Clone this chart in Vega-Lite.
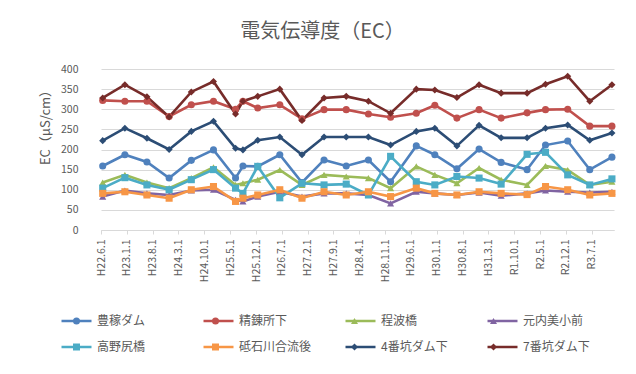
{
  "$schema": "https://vega.github.io/schema/vega-lite/v6.json",
  "width": 513,
  "height": 161,
  "autosize": {"type": "none"},
  "padding": {"left": 101, "top": 69, "right": 22, "bottom": 144},
  "background": "white",
  "config": {"view": {"stroke": null}, "font": "Noto Sans CJK JP"},
  "title": {"text": "電気伝導度（EC）", "fontSize": 20, "font": "Noto Sans CJK JP", "fontWeight": "normal", "color": "#595959", "anchor": "middle", "frame": "group", "dx": -35, "offset": 22},
  "data": {"values": [
    {"date": "2010-06-15", "豊稼ダム": 159, "精錬所下": 322, "程波橋": 118, "元内美小前": 83, "高野尻橋": 104, "砥石川合流後": 91, "4番坑ダム下": 222, "7番坑ダム下": 328},
    {"date": "2010-12-15", "豊稼ダム": 187, "精錬所下": 320, "程波橋": 137, "元内美小前": 98, "高野尻橋": 130, "砥石川合流後": 95, "4番坑ダム下": 253, "7番坑ダム下": 361},
    {"date": "2011-06-15", "豊稼ダム": 169, "精錬所下": 320, "程波橋": 118, "元内美小前": 91, "高野尻橋": 112, "砥石川合流後": 87, "4番坑ダム下": 228, "7番坑ダム下": 331},
    {"date": "2011-12-15", "豊稼ダム": 129, "精錬所下": 282, "程波橋": 104, "元内美小前": 87, "高野尻橋": 100, "砥石川合流後": 79, "4番坑ダム下": 200, "7番坑ダム下": 281},
    {"date": "2012-06-15", "豊稼ダム": 173, "精錬所下": 311, "程波橋": 129, "元内美小前": 98, "高野尻橋": 125, "砥石川合流後": 100, "4番坑ダム下": 245, "7番坑ダム下": 343},
    {"date": "2012-12-15", "豊稼ダム": 199, "精錬所下": 320, "程波橋": 156, "元内美小前": 100, "高野尻橋": 150, "砥石川合流後": 108, "4番坑ダム下": 270, "7番坑ダム下": 369},
    {"date": "2013-06-15", "豊稼ダム": 129, "精錬所下": 300, "程波橋": 112, "元内美小前": 75, "高野尻橋": 104, "砥石川合流後": 71, "4番坑ダム下": 203, "7番坑ダム下": 288},
    {"date": "2013-08-15", "豊稼ダム": 159, "精錬所下": 320, "程波橋": 116, "元内美小前": 71, "高野尻橋": 91, "砥石川合流後": 79, "4番坑ダム下": 199, "7番坑ダム下": 320},
    {"date": "2013-12-15", "豊稼ダム": 158, "精錬所下": 303, "程波橋": 125, "元内美小前": 83, "高野尻橋": 158, "砥石川合流後": 87, "4番坑ダム下": 223, "7番坑ダム下": 332},
    {"date": "2014-06-15", "豊稼ダム": 187, "精錬所下": 311, "程波橋": 149, "元内美小前": 95, "高野尻橋": 80, "砥石川合流後": 100, "4番坑ダム下": 231, "7番坑ダム下": 350},
    {"date": "2014-12-15", "豊稼ダム": 118, "精錬所下": 276, "程波橋": 112, "元内美小前": 83, "高野尻橋": 116, "砥石川合流後": 79, "4番坑ダム下": 187, "7番坑ダム下": 272},
    {"date": "2015-06-15", "豊稼ダム": 174, "精錬所下": 299, "程波橋": 137, "元内美小前": 91, "高野尻橋": 112, "砥石川合流後": 95, "4番坑ダム下": 231, "7番坑ダム下": 328},
    {"date": "2015-12-15", "豊稼ダム": 159, "精錬所下": 299, "程波橋": 133, "元内美小前": 91, "高野尻橋": 114, "砥石川合流後": 87, "4番坑ダム下": 231, "7番坑ダム下": 332},
    {"date": "2016-06-15", "豊稼ダム": 174, "精錬所下": 288, "程波橋": 129, "元内美小前": 87, "高野尻橋": 87, "砥石川合流後": 95, "4番坑ダム下": 231, "7番坑ダム下": 320},
    {"date": "2016-12-15", "豊稼ダム": 120, "精錬所下": 280, "程波橋": 104, "元内美小前": 66, "高野尻橋": 183, "砥石川合流後": 83, "4番坑ダム下": 211, "7番坑ダム下": 290},
    {"date": "2017-07-15", "豊稼ダム": 209, "精錬所下": 290, "程波橋": 158, "元内美小前": 95, "高野尻橋": 120, "砥石川合流後": 104, "4番坑ダム下": 245, "7番坑ダム下": 350},
    {"date": "2017-12-15", "豊稼ダム": 187, "精錬所下": 310, "程波橋": 137, "元内美小前": 91, "高野尻橋": 112, "砥石川合流後": 91, "4番坑ダム下": 253, "7番坑ダム下": 348},
    {"date": "2018-06-15", "豊稼ダム": 152, "精錬所下": 278, "程波橋": 116, "元内美小前": 87, "高野尻橋": 133, "砥石川合流後": 87, "4番坑ダム下": 209, "7番坑ダム下": 329},
    {"date": "2018-12-15", "豊稼ダム": 201, "精錬所下": 299, "程波橋": 154, "元内美小前": 93, "高野尻橋": 129, "砥石川合流後": 95, "4番坑ダム下": 260, "7番坑ダム下": 361},
    {"date": "2019-06-15", "豊稼ダム": 168, "精錬所下": 278, "程波橋": 125, "元内美小前": 85, "高野尻橋": 114, "砥石川合流後": 91, "4番坑ダム下": 229, "7番坑ダム下": 340},
    {"date": "2020-01-15", "豊稼ダム": 150, "精錬所下": 291, "程波橋": 112, "元内美小前": 91, "高野尻橋": 188, "砥石川合流後": 88, "4番坑ダム下": 229, "7番坑ダム下": 340},
    {"date": "2020-06-15", "豊稼ダム": 211, "精錬所下": 299, "程波橋": 159, "元内美小前": 98, "高野尻橋": 193, "砥石川合流後": 108, "4番坑ダム下": 253, "7番坑ダム下": 362},
    {"date": "2020-12-15", "豊稼ダム": 221, "精錬所下": 300, "程波橋": 149, "元内美小前": 95, "高野尻橋": 137, "砥石川合流後": 100, "4番坑ダム下": 261, "7番坑ダム下": 382},
    {"date": "2021-06-15", "豊稼ダム": 150, "精錬所下": 258, "程波橋": 112, "元内美小前": 93, "高野尻橋": 112, "砥石川合流後": 87, "4番坑ダム下": 223, "7番坑ダム下": 320},
    {"date": "2021-12-15", "豊稼ダム": 181, "精錬所下": 258, "程波橋": 120, "元内美小前": 95, "高野尻橋": 127, "砥石川合流後": 91, "4番坑ダム下": 241, "7番坑ダム下": 361}
  ]},
  "transform": [
    {"fold": ["豊稼ダム", "精錬所下", "程波橋", "元内美小前", "高野尻橋", "砥石川合流後", "4番坑ダム下", "7番坑ダム下"], "as": ["地点", "EC"]}
  ],
  "encoding": {
    "x": {
      "field": "date", "type": "temporal",
      "scale": {"domain": [{"year": 2010, "month": 6, "date": 1}, {"year": 2022, "month": 1, "date": 1}], "nice": false},
      "axis": {
        "values": [
          {"year": 2010, "month": 6, "date": 1}, {"year": 2011, "month": 1, "date": 1}, {"year": 2011, "month": 8, "date": 1},
          {"year": 2012, "month": 3, "date": 1}, {"year": 2012, "month": 10, "date": 1}, {"year": 2013, "month": 5, "date": 1},
          {"year": 2013, "month": 12, "date": 1}, {"year": 2014, "month": 7, "date": 1}, {"year": 2015, "month": 2, "date": 1},
          {"year": 2015, "month": 9, "date": 1}, {"year": 2016, "month": 4, "date": 1}, {"year": 2016, "month": 11, "date": 1},
          {"year": 2017, "month": 6, "date": 1}, {"year": 2018, "month": 1, "date": 1}, {"year": 2018, "month": 8, "date": 1},
          {"year": 2019, "month": 3, "date": 1}, {"year": 2019, "month": 10, "date": 1}, {"year": 2020, "month": 5, "date": 1},
          {"year": 2020, "month": 12, "date": 1}, {"year": 2021, "month": 7, "date": 1}
        ],
        "labelExpr": "(datum.value < datetime(2019, 4, 1) ? 'H' + (year(datum.value) - 1988) : 'R' + (year(datum.value) - 2018)) + '.' + (month(datum.value) + 1) + '.' + date(datum.value)",
        "labelAngle": -90,
        "labelFontSize": 10.5,
        "labelFont": "Noto Sans CJK JP",
        "labelColor": "#595959",
        "labelPadding": 5,
        "labelOverlap": false,
        "labelBound": false,
        "labelFlush": false,
        "grid": false,
        "domainColor": "#d9d9d9",
        "tickColor": "#d9d9d9",
        "tickSize": 4,
        "title": null
      }
    },
    "y": {
      "field": "EC", "type": "quantitative",
      "scale": {"domain": [0, 400], "nice": false},
      "axis": {
        "values": [0, 50, 100, 150, 200, 250, 300, 350, 400],
        "grid": true,
        "gridColor": "#d9d9d9",
        "domain": false,
        "ticks": false,
        "labelFontSize": 10.5,
        "labelFont": "Noto Sans CJK JP",
        "labelColor": "#595959",
        "labelPadding": 23,
        "title": "EC（μS/cm）",
        "titleFont": "Noto Sans CJK JP",
        "titleFontSize": 13,
        "titleFontWeight": "normal",
        "titleColor": "#595959",
        "titleAngle": -90,
        "titleX": -56,
        "titleY": 55,
        "titleAlign": "center",
        "titleBaseline": "middle"
      }
    }
  },
  "layer": [
    {
      "mark": {"type": "line", "strokeWidth": 2.6},
      "encoding": {
        "stroke": {
          "field": "地点", "type": "nominal",
          "sort": ["豊稼ダム", "精錬所下", "程波橋", "元内美小前", "高野尻橋", "砥石川合流後", "4番坑ダム下", "7番坑ダム下"],
          "scale": {"range": ["#4F81BD", "#C0504D", "#9BBB59", "#8064A2", "#4BACC6", "#F79646", "#2C4D75", "#772C2A"]},
          "legend": {
            "orient": "none", "legendX": -41, "legendY": 246,
            "direction": "horizontal", "columns": 4, "title": null,
            "symbolType": "M-1.5,0L8.5,0", "symbolSize": 36, "symbolStrokeWidth": 2.5,
            "labelOffset": 25, "labelFontSize": 12, "labelFont": "Noto Sans CJK JP", "labelColor": "#595959",
            "columnPadding": 28, "rowPadding": 14, "gridAlign": "all", "padding": 0
          }
        }
      }
    },
    {
      "mark": {"type": "point", "filled": true, "size": 50, "opacity": 1},
      "encoding": {
        "color": {
          "field": "地点", "type": "nominal",
          "scale": {
            "domain": ["豊稼ダム", "精錬所下", "程波橋", "元内美小前", "高野尻橋", "砥石川合流後", "4番坑ダム下", "7番坑ダム下"],
            "range": ["#4F81BD", "#C0504D", "#9BBB59", "#8064A2", "#4BACC6", "#F79646", "#2C4D75", "#772C2A"]
          },
          "legend": {
            "orient": "none", "legendX": -30.5, "legendY": 246,
            "direction": "horizontal", "columns": 4, "title": null,
            "symbolSize": 49, "symbolStrokeWidth": 1.5,
            "labelExpr": "''", "labelOffset": 0, "labelFontSize": 12, "labelFont": "Noto Sans CJK JP",
            "columnPadding": 127, "rowPadding": 14, "gridAlign": "all", "padding": 0
          }
        },
        "shape": {
          "field": "地点", "type": "nominal",
          "scale": {
            "domain": ["豊稼ダム", "精錬所下", "程波橋", "元内美小前", "高野尻橋", "砥石川合流後", "4番坑ダム下", "7番坑ダム下"],
            "range": ["circle", "circle", "triangle-up", "triangle-up", "square", "square", "diamond", "diamond"]
          },
          "legend": null
        }
      }
    }
  ]
}
